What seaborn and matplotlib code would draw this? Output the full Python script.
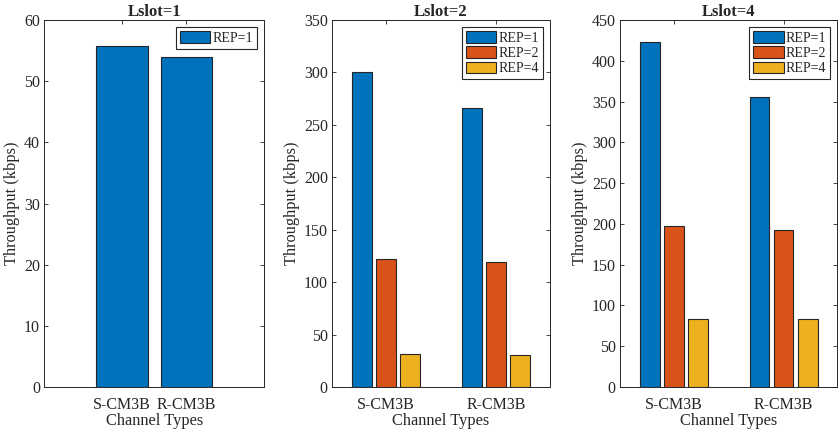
import pandas as pd
import matplotlib
matplotlib.use("Agg")
import matplotlib.pyplot as plt
import seaborn as sns

# Throughput per channel type, for each Lslot / REP setting
channels = ["S-CM3B", "R-CM3B"]
lslot1_rep1 = [55.8, 53.9]
lslot2_rep1 = [300.0, 266.0]
lslot2_rep2 = [122.0, 119.3]
lslot2_rep4 = [31.5, 30.9]
lslot4_rep1 = [423.5, 355.5]
lslot4_rep2 = [197.0, 192.0]
lslot4_rep4 = [83.8, 83.0]

panels = [
    ("Lslot=1", {"REP=1": lslot1_rep1}, 60, 10),
    ("Lslot=2", {"REP=1": lslot2_rep1, "REP=2": lslot2_rep2, "REP=4": lslot2_rep4}, 350, 50),
    ("Lslot=4", {"REP=1": lslot4_rep1, "REP=2": lslot4_rep2, "REP=4": lslot4_rep4}, 450, 50),
]
matlab_colors = ["#0072BD", "#D95319", "#EDB120"]

sns.set_style("ticks")
plt.rcParams["font.family"] = ["Liberation Serif", "DejaVu Serif"]
plt.rcParams["axes.edgecolor"] = "#262626"
plt.rcParams["xtick.color"] = "#262626"
plt.rcParams["ytick.color"] = "#262626"

fig = plt.figure(figsize=(8.39, 4.34), dpi=100)
positions = [
    [0.0528, 0.1083, 0.2619, 0.8456],
    [0.3957, 0.1083, 0.2598, 0.8456],
    [0.7390, 0.1083, 0.2590, 0.8456],
]

for (title, series, ymax, ystep), pos in zip(panels, positions):
    ax = fig.add_axes(pos)
    rows = []
    for rep, vals in series.items():
        for ch, v in zip(channels, vals):
            rows.append({"channel": ch, "rep": rep, "throughput": v})
    df = pd.DataFrame(rows)
    n = len(series)
    if n == 1:
        sns.barplot(data=df, x="channel", y="throughput", hue="rep",
                    palette=matlab_colors[:1], width=0.8, ax=ax,
                    edgecolor="#262626", linewidth=0.8, saturation=1)
        ax.set_xlim(-1.21, 2.21)
    else:
        sns.barplot(data=df, x="channel", y="throughput", hue="rep",
                    palette=matlab_colors[:n], width=0.66, gap=0.18, ax=ax,
                    edgecolor="#262626", linewidth=0.8, saturation=1)
        ax.set_xlim(-0.49, 1.49)
    ax.set_ylim(0, ymax)
    ax.set_yticks(range(0, ymax + 1, ystep))
    ax.set_title(title, fontsize=12, fontweight="bold", pad=3)
    ax.set_xlabel("Channel Types", fontsize=11.8, labelpad=0, color="#262626")
    ax.set_ylabel("Throughput (kbps)", fontsize=11.8, labelpad=3, color="#262626")
    ax.tick_params(direction="in", length=3, width=0.6, labelsize=11.5,
                   top=True, right=True, pad=3)
    ax.tick_params(axis="x", pad=7)
    for s in ax.spines.values():
        s.set_visible(True)
        s.set_linewidth(0.7)
    leg = ax.legend(loc="upper right", fontsize=10, frameon=True, fancybox=False,
                    edgecolor="#262626", framealpha=1, handlelength=2.2,
                    handleheight=0.9, handletextpad=0.15, borderpad=0.3,
                    labelspacing=0.12, borderaxespad=0.5)
    leg.get_frame().set_linewidth(0.8)

fig.savefig("out.png", dpi=100)
